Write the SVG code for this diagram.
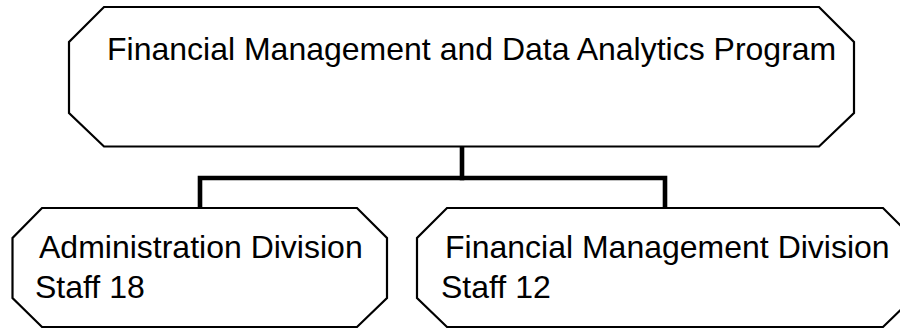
<svg xmlns="http://www.w3.org/2000/svg" width="900" height="329" viewBox="0 0 900 329">
<style>
.box{fill:#ffffff;stroke:#000000;stroke-width:2.2;stroke-linejoin:miter}
.lbl{font-family:"Liberation Sans",Arial,sans-serif;font-size:32px;fill:#000000}
.conn{fill:none;stroke:#000000;stroke-width:4.6;stroke-linejoin:miter;stroke-linecap:square}
</style>
<rect x="0" y="0" width="900" height="329" fill="#ffffff"/>
<g id="connectors">
<path class="conn" d="M462 147 V178"/>
<path class="conn" d="M200 208 V178 H665 V208"/>
</g>
<g id="program">
<polygon class="box" points="104,7 819,7 854,42 854,113 819,146.5 104,146.5 69,113 69,42"/>
<text class="lbl" x="107" y="60">Financial Management and Data Analytics Program</text>
</g>
<g id="admin">
<polygon class="box" points="42,208 357,208 387,238 387,298 357,327 42,327 12.5,298 12.5,238"/>
<text class="lbl" x="39" y="258">Administration Division</text>
<text class="lbl" x="35" y="298">Staff 18</text>
</g>
<g id="finmgmt">
<polygon class="box" points="447,208 883,208 913,238 913,298 883,327 447,327 417,298 417,238"/>
<text class="lbl" x="445" y="258">Financial Management Division</text>
<text class="lbl" x="441" y="298">Staff 12</text>
</g>
</svg>
